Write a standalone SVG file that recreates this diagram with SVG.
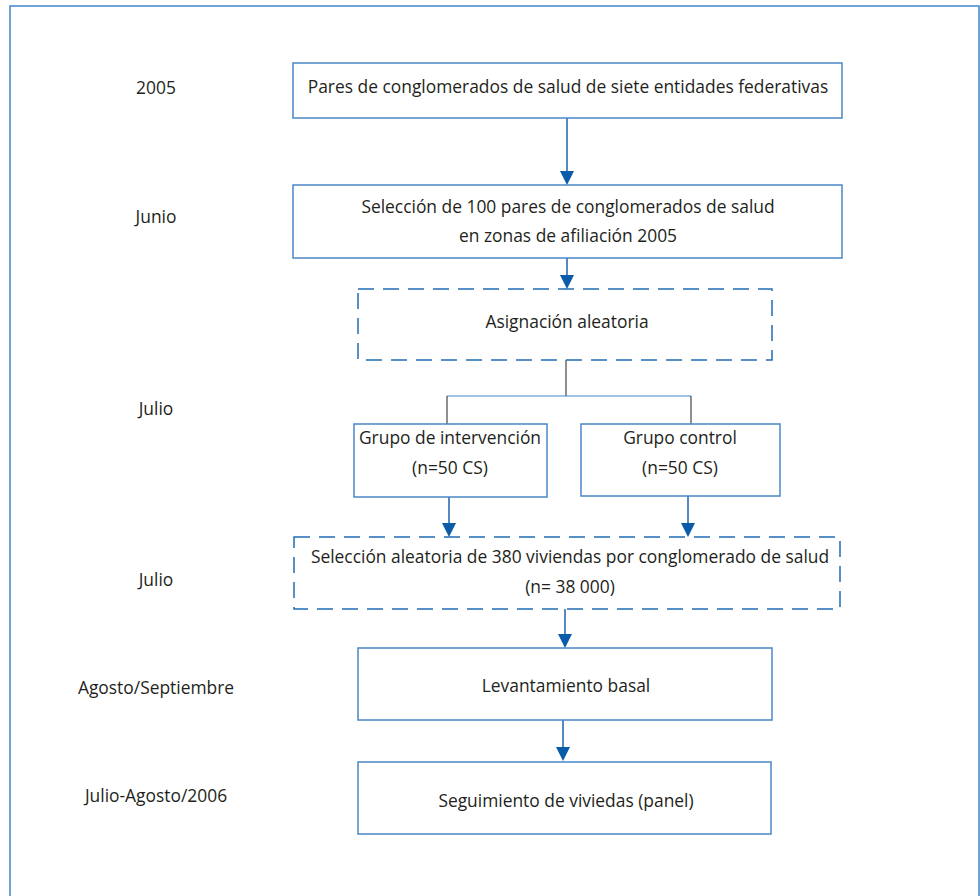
<svg xmlns="http://www.w3.org/2000/svg" width="980" height="896" viewBox="0 0 980 896">
<defs>
<style>
.t{font-family:"Open Sans","Noto Sans",sans-serif;font-size:17.4px;fill:#231f20;text-anchor:middle}
.box{fill:#fff;stroke:#4a88c8;stroke-width:1.5}
.dash{fill:#fff;stroke:#1f6cb5;stroke-width:1.5;stroke-dasharray:16 9}
.arr{stroke:#1b63ad;stroke-width:1.5;fill:none}
.ah{fill:#0a5ca8}
</style>
</defs>
<rect x="10" y="6" width="969" height="900" fill="#fff" stroke="#3f87cc" stroke-width="1.5"/>
<g id="labels">
<text class="t" x="156" y="94">2005</text>
<text class="t" x="156" y="223">Junio</text>
<text class="t" x="156" y="415">Julio</text>
<text class="t" x="156" y="586">Julio</text>
<text class="t" x="156" y="694">Agosto/Septiembre</text>
<text class="t" x="156" y="802">Julio-Agosto/2006</text>
</g>
<g id="connectors">
<line class="arr" x1="567" y1="118" x2="567" y2="172"/>
<polygon class="ah" points="560,171 574,171 567,185"/>
<line class="arr" x1="567" y1="258" x2="567" y2="276"/>
<polygon class="ah" points="560,275 574,275 567,289"/>
<line x1="566" y1="360" x2="566" y2="396" stroke="#231f20" stroke-width="1"/>
<line x1="447" y1="396" x2="691" y2="396" stroke="#3f87cc" stroke-width="1.2"/>
<line x1="447" y1="396" x2="447" y2="424" stroke="#231f20" stroke-width="1"/>
<line x1="691" y1="396" x2="691" y2="424" stroke="#231f20" stroke-width="1"/>
<line class="arr" x1="449" y1="497" x2="449" y2="524"/>
<polygon class="ah" points="442,523 456,523 449,537"/>
<line class="arr" x1="688" y1="496" x2="688" y2="524"/>
<polygon class="ah" points="681,523 695,523 688,537"/>
<line class="arr" x1="565" y1="609" x2="565" y2="635"/>
<polygon class="ah" points="558,634 572,634 565,648"/>
<line class="arr" x1="563" y1="720" x2="563" y2="748"/>
<polygon class="ah" points="556,747 570,747 563,761"/>
</g>
<g id="n1">
<rect class="box" x="293" y="63" width="549" height="55"/>
<text class="t" x="568" y="93">Pares de conglomerados de salud de siete entidades federativas</text>
</g>
<g id="n2">
<rect class="box" x="293" y="185" width="549" height="73"/>
<text class="t" x="568" y="213">Selección de 100 pares de conglomerados de salud</text>
<text class="t" x="568" y="242">en zonas de afiliación 2005</text>
</g>
<g id="n3">
<rect class="dash" x="358" y="289" width="414" height="71"/>
<text class="t" x="567" y="328">Asignación aleatoria</text>
</g>
<g id="n4">
<rect class="box" x="354" y="424" width="193" height="73"/>
<text class="t" x="450" y="444">Grupo de intervención</text>
<text class="t" x="450" y="474">(n=50 CS)</text>
</g>
<g id="n5">
<rect class="box" x="581" y="424" width="199" height="72"/>
<text class="t" x="680" y="444">Grupo control</text>
<text class="t" x="680" y="474">(n=50 CS)</text>
</g>
<g id="n6">
<rect class="dash" x="294" y="537" width="546" height="72"/>
<text class="t" x="570" y="563">Selección aleatoria de 380 viviendas por conglomerado de salud</text>
<text class="t" x="570" y="593">(n= 38 000)</text>
</g>
<g id="n7">
<rect class="box" x="358" y="648" width="414" height="72"/>
<text class="t" x="566" y="692">Levantamiento basal</text>
</g>
<g id="n8">
<rect class="box" x="358" y="762" width="413" height="72"/>
<text class="t" x="566" y="807">Seguimiento de viviedas (panel)</text>
</g>
</svg>
